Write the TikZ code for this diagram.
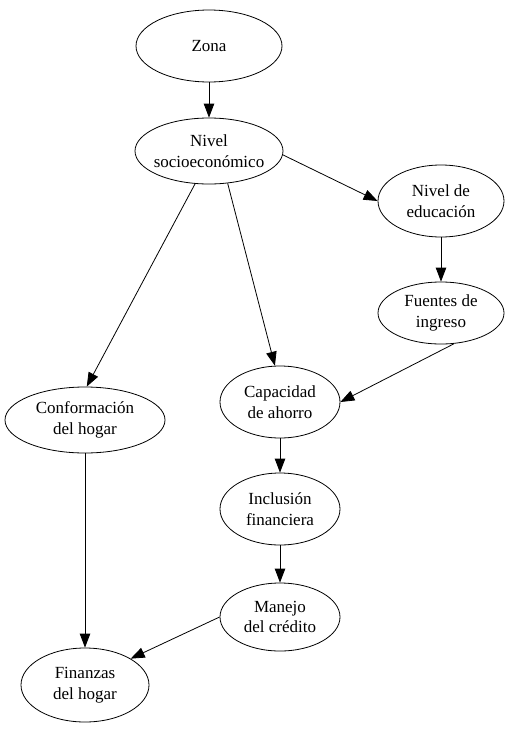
\documentclass[tikz,border=0pt]{standalone}
\usepackage{fontspec}
\setmainfont{Liberation Serif}
\usetikzlibrary{shapes.geometric,arrows.meta}
\begin{document}
\begin{tikzpicture}[x=1pt,y=-1pt,
  ell/.style 2 args={ellipse, draw, line width=0.8pt, minimum width=#1pt, minimum height=#2pt,
    inner xsep=-25pt, inner ysep=0pt, align=center, font=\fontsize{17}{20.5}\selectfont},
  arr/.style={line width=0.8pt, -{Triangle[length=14pt,width=10.5pt]}}]
\useasboundingbox (0,0) rectangle (519,731);
\node[ell={146}{72}] (zona) at (209,46) {Zona};
\node[ell={148}{66}] (socio) at (209,151) {Nivel\\socioeconómico};
\node[ell={126}{72}] (educ) at (441,201) {Nivel de\\educación};
\node[ell={126}{62}] (fuentes) at (441,313) {Fuentes de\\ingreso};
\node[ell={120}{72}] (capac) at (280,402) {Capacidad\\de ahorro};
\node[ell={160}{66}] (conf) at (85,420) {Conformación\\del hogar};
\node[ell={120}{72}] (incl) at (280,509) {Inclusión\\financiera};
\node[ell={120}{68}] (manejo) at (280,617) {Manejo\\del crédito};
\node[ell={128}{74}] (fin) at (85,685) {Finanzas\\del hogar};
\draw[arr] (zona.south) -- (socio.north);
\draw[arr] (socio.-3) -- (educ.west);
\draw[arr] (socio.247) -- (conf.87);
\draw[arr] (socio.-60) -- (capac.98);
\draw[arr] (educ.south) -- (fuentes.north);
\draw[arr] (fuentes.-67) -- (capac.east);
\draw[arr] (capac.south) -- (incl.north);
\draw[arr] (incl.south) -- (manejo.north);
\draw[arr] (conf.south) -- (fin.north);
\draw[arr] (manejo.west) -- (fin.30);
\end{tikzpicture}
\end{document}
